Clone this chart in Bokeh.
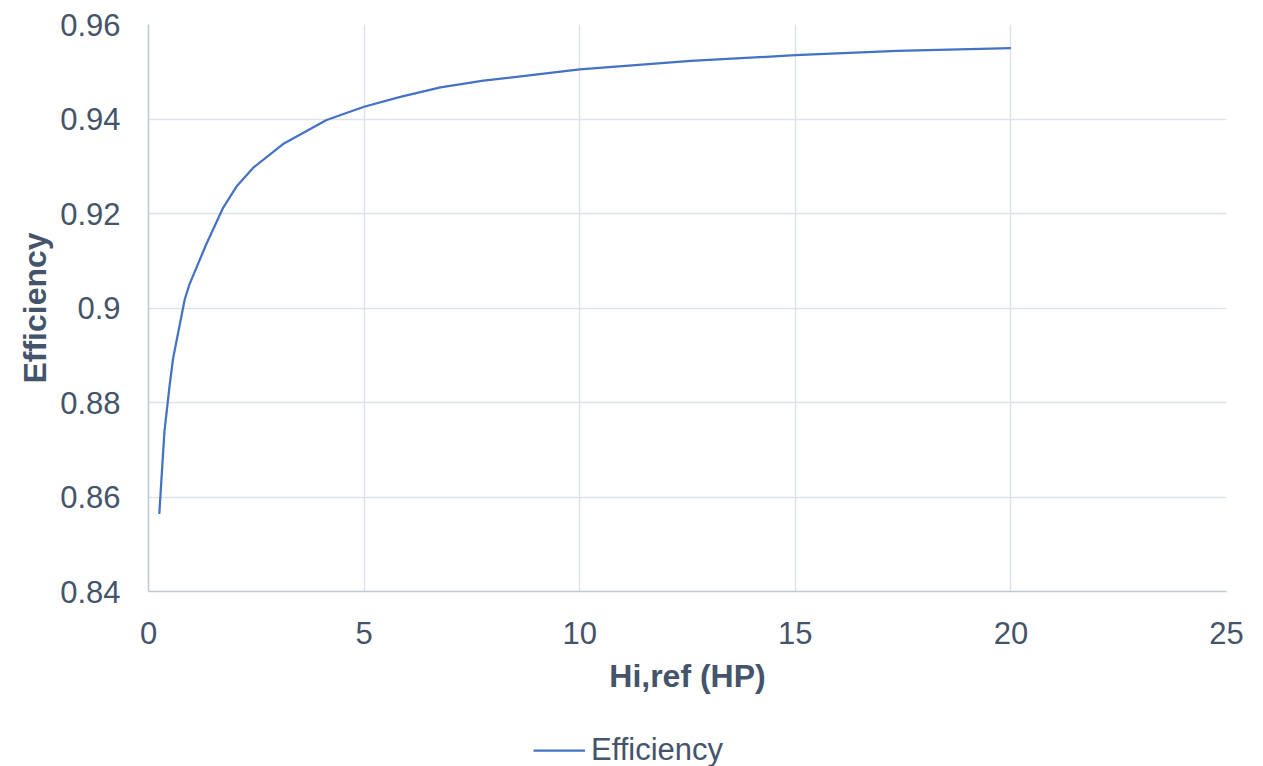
from bokeh.plotting import figure
from bokeh.models import Range1d, FixedTicker, Legend, LegendItem
from bokeh.layouts import column
from bokeh.embed import file_html
from bokeh.resources import INLINE

# ---- data ----
hp = [0.25, 0.37, 0.49, 0.57, 0.84, 0.95, 1.34, 1.73, 2.04, 2.43, 3.12, 4.13,
      5.0, 5.84, 6.77, 7.77, 10.0, 12.58, 15.0, 17.36, 20.0]
efficiency = [0.8564, 0.8739, 0.8836, 0.8893, 0.9018, 0.9050, 0.9135, 0.9212,
              0.9257, 0.9297, 0.9347, 0.9398, 0.9426, 0.9447, 0.9467, 0.9481,
              0.9505, 0.9523, 0.9535, 0.9544, 0.9550]
x_ticks = [0, 5, 10, 15, 20, 25]
y_ticks = [0.84, 0.86, 0.88, 0.90, 0.92, 0.94, 0.96]
y_tick_labels = ["0.84", "0.86", "0.88", "0.9", "0.92", "0.94", "0.96"]
x_title = "Hi,ref (HP)"
y_title = "Efficiency"
series_name = "Efficiency"

TEXT = "#44546a"
FONT = "Liberation Sans"
LINE = "#4472c4"

p = figure(width=1263, height=710, output_backend="svg", toolbar_location=None,
           x_range=Range1d(0, 25), y_range=Range1d(0.84, 0.96),
           min_border_left=148, min_border_top=24, min_border_right=37,
           min_border_bottom=119)
p.outline_line_color = None
p.background_fill_color = "white"
p.border_fill_color = "white"

p.line(hp, efficiency, line_color=LINE, line_width=2.25)

for ax in (p.xaxis[0], p.yaxis[0]):
    ax.major_tick_in = 0
    ax.major_tick_out = 0
    ax.minor_tick_in = 0
    ax.minor_tick_out = 0
    ax.axis_line_color = "#bfc6d3"
    ax.axis_line_width = 1.5
    ax.major_label_text_font = FONT
    ax.major_label_text_font_size = "31px"
    ax.major_label_text_color = TEXT
    ax.axis_label_text_font = FONT
    ax.axis_label_text_font_size = "32px"
    ax.axis_label_text_font_style = "bold"
    ax.axis_label_text_color = TEXT

p.xaxis[0].ticker = FixedTicker(ticks=x_ticks)
p.yaxis[0].ticker = FixedTicker(ticks=y_ticks)
p.yaxis[0].major_label_overrides = {t: s for t, s in zip(y_ticks, y_tick_labels)}
p.xaxis[0].axis_label = x_title
p.yaxis[0].axis_label = y_title
p.xaxis[0].major_label_standoff = 30
p.xaxis[0].axis_label_standoff = 11
p.yaxis[0].major_label_standoff = 28
p.yaxis[0].axis_label_standoff = 4

p.xgrid[0].ticker = FixedTicker(ticks=x_ticks)
p.ygrid[0].ticker = FixedTicker(ticks=y_ticks)
for g in (p.xgrid[0], p.ygrid[0]):
    g.grid_line_color = "#dee2e9"
    g.grid_line_width = 1.5

# ---- legend strip below the chart ----
lg = figure(width=1263, height=56, output_backend="svg", toolbar_location=None,
            x_range=Range1d(100, 101), y_range=Range1d(0, 1),
            x_axis_location=None, y_axis_location=None,
            min_border_left=0, min_border_right=0, min_border_top=0,
            min_border_bottom=0)
lg.outline_line_color = None
lg.grid.visible = False
lg.background_fill_color = "white"
lg.border_fill_color = "white"
proxy = lg.line(hp, efficiency, line_color=LINE, line_width=2.25)

legend = Legend(items=[LegendItem(label=series_name, renderers=[proxy])],
                location=(385, -2), orientation="horizontal",
                padding=0, margin=0, spacing=0,
                glyph_width=52, glyph_height=30, label_height=30,
                label_standoff=6, border_line_color=None,
                background_fill_alpha=0,
                label_text_font=FONT, label_text_font_size="31px",
                label_text_color=TEXT)
lg.add_layout(legend, "center")

layout = column(p, lg, spacing=0)
open("out.html", "w").write(file_html(layout, INLINE))
